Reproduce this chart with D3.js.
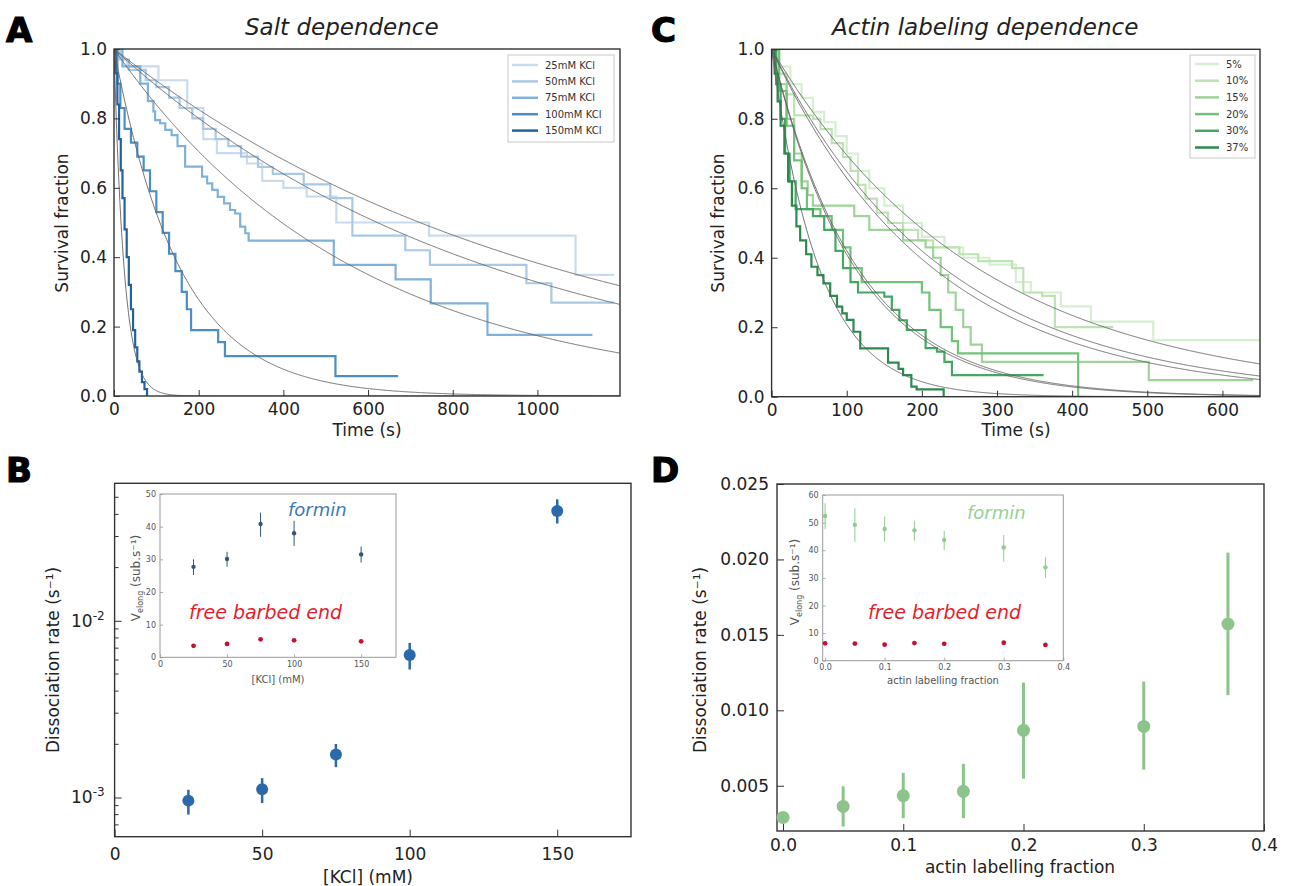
<!DOCTYPE html>
<html>
<head>
<meta charset="utf-8">
<script src="https://cdn.jsdelivr.net/npm/d3@7"></script>
<style>
  body { margin: 0; background: #fff; }
  svg { font-family: "DejaVu Sans", sans-serif; }
</style>
</head>
<body>
<svg id="fig" width="1306" height="886"></svg>
<script>
// ---------- Panel A : survival curves, salt series ----------
const saltLabels = ["25mM KCl", "50mM KCl", "75mM KCl", "100mM KCl", "150mM KCl"];
const saltColors = ["#c9dcee", "#a9c9e4", "#80b1d8", "#4b8dc6", "#22639f"];
// [time (s), survival fraction] change points
const salt25 = [[0,1],[12,0.97],[30,0.95],[105,0.91],[173,0.83],[211,0.74],[243,0.70],[314,0.67],[350,0.62],[400,0.60],[455,0.575],[525,0.50],[744,0.462],[1090,0.349],[1181,0.349]];
const salt50 = [[0,1],[15,0.97],[35,0.94],[75,0.91],[100,0.89],[130,0.86],[155,0.83],[185,0.80],[210,0.77],[240,0.74],[270,0.72],[300,0.69],[340,0.66],[375,0.64],[448,0.61],[511,0.57],[563,0.462],[688,0.42],[746,0.378],[974,0.325],[1033,0.269],[1181,0.269]];
const salt75 = [[0,1],[20,0.95],[62,0.90],[80,0.85],[93,0.82],[97,0.795],[109,0.786],[121,0.767],[136,0.752],[150,0.72],[168,0.661],[208,0.632],[220,0.613],[232,0.594],[245,0.574],[260,0.555],[274,0.536],[286,0.526],[298,0.488],[310,0.469],[318,0.448],[519,0.378],[665,0.336],[748,0.267],[882,0.176],[1130,0.176]];
const salt100 = [[0,1],[8,0.90],[15,0.83],[25,0.77],[40,0.73],[55,0.69],[70,0.65],[85,0.59],[100,0.53],[115,0.47],[130,0.41],[145,0.36],[160,0.30],[172,0.25],[182,0.19],[246,0.155],[262,0.115],[523,0.057],[671,0.057]];
const salt150 = [[0,1],[4,0.93],[8,0.84],[12,0.74],[16,0.65],[20,0.57],[25,0.48],[30,0.40],[35,0.32],[40,0.25],[45,0.19],[50,0.14],[55,0.10],[60,0.07],[66,0.04],[72,0.02],[78,0]];
const saltSteps = [salt25, salt50, salt75, salt100, salt150];

// ---------- Panel B : dissociation rate vs [KCl] ----------
const kcl = [25, 50, 75, 100, 150];
const saltRate = [9.6e-4, 1.115e-3, 1.75e-3, 6.4e-3, 0.0418];
const saltRateLo = [8.0e-4, 9.3e-4, 1.485e-3, 5.3e-3, 0.0355];
const saltRateHi = [1.105e-3, 1.287e-3, 2.01e-3, 7.5e-3, 0.0487];
const saltVformin = [27.7, 30.1, 40.8, 38.0, 31.5];
const saltVforminLo = [25.2, 27.7, 36.9, 34.1, 29.0];
const saltVforminHi = [30.0, 32.3, 44.3, 41.8, 33.9];
const saltVfree = [3.5, 4.1, 5.5, 5.2, 4.9];

// ---------- Panel C : survival curves, labeling series ----------
const labLabels = ["5%", "10%", "15%", "20%", "30%", "37%"];
const labFrac = [0.05, 0.1, 0.15, 0.2, 0.3, 0.37];
const labColors = ["#d6efd0", "#bde3b4", "#9fd39a", "#73c27a", "#45a862", "#2b8a4d"];
const lab5 = [[0,1],[10,0.95],[25,0.90],[40,0.86],[55,0.82],[70,0.79],[85,0.75],[100,0.70],[115,0.65],[130,0.60],[150,0.55],[175,0.50],[200,0.46],[230,0.43],[255,0.40],[290,0.38],[325,0.33],[345,0.30],[385,0.26],[425,0.216],[508,0.163],[650,0.163]];
const lab10 = [[0,1],[8,0.93],[20,0.87],[30,0.81],[55,0.80],[65,0.77],[80,0.73],[95,0.69],[105,0.65],[115,0.61],[125,0.57],[140,0.53],[155,0.50],[175,0.48],[195,0.45],[215,0.43],[250,0.41],[275,0.39],[320,0.37],[335,0.30],[360,0.29],[377,0.20],[455,0.20]];
const lab15 = [[0,1],[10,0.90],[20,0.80],[30,0.70],[40,0.62],[48,0.58],[55,0.55],[110,0.52],[130,0.48],[175,0.45],[205,0.43],[215,0.40],[225,0.35],[235,0.30],[245,0.25],[255,0.20],[265,0.15],[280,0.10],[502,0.048],[641,0.048]];
const lab20 = [[0,1],[10,0.88],[20,0.78],[30,0.68],[40,0.60],[47,0.54],[65,0.52],[80,0.48],[95,0.43],[105,0.37],[120,0.33],[200,0.30],[210,0.25],[225,0.20],[240,0.16],[248,0.125],[408,0]];
const lab30 = [[0,1],[6,0.90],[12,0.80],[18,0.70],[24,0.62],[32,0.54],[55,0.52],[70,0.48],[85,0.42],[95,0.37],[105,0.33],[115,0.30],[150,0.288],[160,0.25],[170,0.22],[180,0.192],[205,0.14],[220,0.13],[230,0.10],[240,0.062],[362,0.062]];
const lab37 = [[0,1],[4,0.93],[8,0.85],[12,0.78],[17,0.70],[22,0.62],[27,0.55],[33,0.49],[38,0.45],[46,0.41],[53,0.374],[61,0.35],[69,0.326],[78,0.29],[87,0.259],[94,0.24],[100,0.221],[109,0.187],[118,0.139],[155,0.098],[169,0.08],[175,0.062],[186,0.029],[193,0.021],[220,0.021],[229,0]];
const labSteps = [lab5, lab10, lab15, lab20, lab30, lab37];

// ---------- Panel D : dissociation rate vs labelling fraction ----------
const frac = [0, 0.05, 0.1, 0.15, 0.2, 0.3, 0.37];
const fracRate = [0.0029, 0.00363, 0.00434, 0.00463, 0.00867, 0.00893, 0.01572];
const fracRateLo = [0.0028, 0.0023, 0.00285, 0.00285, 0.00547, 0.00607, 0.0110];
const fracRateHi = [0.0031, 0.00496, 0.00585, 0.00645, 0.01184, 0.0119, 0.02045];
const fracVformin = [52.4, 49.2, 47.7, 47.2, 43.7, 41.0, 33.8];
const fracVforminLo = [47.6, 43.1, 43.1, 43.5, 40.1, 35.9, 29.9];
const fracVforminHi = [57.0, 55.2, 52.2, 50.7, 47.1, 45.5, 37.5];
const fracVfree = [6.3, 6.2, 5.8, 6.4, 6.1, 6.5, 5.7];

const svg = d3.select("#fig");
const INK = "#222";

// axes helper: frame + inward ticks on left/bottom
function drawAxes(g, x, y, cfg) {
  const [x0, x1] = x.range(), [y0, y1] = y.range();
  const gx = g.append("g").attr("transform", `translate(0,${y0})`)
    .call(d3.axisBottom(x).tickValues(cfg.xticks).tickSize(-cfg.tick).tickPadding(cfg.xpad || cfg.pad).tickFormat(cfg.xfmt));
  const gy = g.append("g").attr("transform", `translate(${x0},0)`)
    .call(d3.axisLeft(y).tickValues(cfg.yticks).tickSize(-cfg.tick).tickPadding(cfg.pad).tickFormat(cfg.yfmt || null));
  [gx, gy].forEach(a => {
    a.select(".domain").remove();
    a.attr("font-family", null).attr("font-size", cfg.font);
    a.selectAll("line").attr("stroke", cfg.stroke).attr("stroke-width", cfg.sw);
    a.selectAll("text").attr("fill", cfg.textColor || INK);
  });
  g.append("rect").attr("x", x0).attr("y", y1).attr("width", x1 - x0).attr("height", y0 - y1)
    .attr("fill", "none").attr("stroke", cfg.stroke).attr("stroke-width", cfg.frameW || 1.4);
  return { gx, gy };
}

function clip(id, x, y) {
  svg.append("clipPath").attr("id", id).append("rect")
    .attr("x", x.range()[0]).attr("y", y.range()[1])
    .attr("width", x.range()[1] - x.range()[0]).attr("height", y.range()[0] - y.range()[1]);
}

function letter(t, x, y) {
  svg.append("text").attr("x", x).attr("y", y).text(t)
    .attr("font-size", 34).attr("font-weight", "bold").attr("fill", "#000")
    .attr("stroke", "#000").attr("stroke-width", 1.2);
}

const stepLine = (x, y) => d3.line().x(d => x(d[0])).y(d => y(d[1])).curve(d3.curveStepAfter);
const fitLine = (x, y) => d3.line().x(d => x(d[0])).y(d => y(d[1]));

// ================= Panel A =================
{
  const x = d3.scaleLinear().domain([0, 1195]).range([114, 620]);
  const y = d3.scaleLinear().domain([0, 1]).range([396, 49]);
  clip("clipA", x, y);
  const g = svg.append("g");
  const plot = g.append("g").attr("clip-path", "url(#clipA)");
  saltSteps.forEach((s, i) => {
    plot.append("path").attr("d", stepLine(x, y)(s)).attr("fill", "none")
      .attr("stroke", saltColors[i]).attr("stroke-width", 2.2);
  });
  saltRate.forEach(k => {
    const pts = d3.range(0, 1196, 2).map(t => [t, Math.exp(-k * t)]);
    plot.append("path").attr("d", fitLine(x, y)(pts)).attr("fill", "none")
      .attr("stroke", "#626262").attr("stroke-width", 0.9);
  });
  drawAxes(g, x, y, { xticks: [0, 200, 400, 600, 800, 1000], yticks: [0, 0.2, 0.4, 0.6, 0.8, 1.0],
    xfmt: d3.format("d"), yfmt: d3.format(".1f"), tick: 6, pad: 7, font: 17, stroke: "#333", sw: 1 });
  // legend
  const lg = g.append("g");
  lg.append("rect").attr("x", 508).attr("y", 55).attr("width", 106).attr("height", 87)
    .attr("fill", "#fff").attr("stroke", "#c8c8c8");
  saltLabels.forEach((l, i) => {
    const yy = 65 + i * 16.4;
    lg.append("line").attr("x1", 512).attr("x2", 538).attr("y1", yy).attr("y2", yy)
      .attr("stroke", saltColors[i]).attr("stroke-width", 2.5);
    lg.append("text").attr("x", 545).attr("y", yy + 3.5).text(l).attr("font-size", 10).attr("fill", "#333");
  });
  g.append("text").attr("x", 367).attr("y", 436).attr("text-anchor", "middle").attr("font-size", 17).attr("fill", INK).text("Time (s)");
  g.append("text").attr("transform", "translate(68,223) rotate(-90)").attr("text-anchor", "middle").attr("font-size", 17).attr("fill", INK).text("Survival fraction");
  g.append("text").attr("x", 245).attr("y", 35).attr("font-size", 23).attr("font-style", "italic").attr("fill", INK).text("Salt dependence");
  letter("A", 6, 42);
}

// ================= Panel C =================
{
  const x = d3.scaleLinear().domain([0, 650]).range([771.6, 1260]);
  const y = d3.scaleLinear().domain([0, 1]).range([396.7, 49.3]);
  clip("clipC", x, y);
  const g = svg.append("g");
  const plot = g.append("g").attr("clip-path", "url(#clipC)");
  labSteps.forEach((s, i) => {
    plot.append("path").attr("d", stepLine(x, y)(s)).attr("fill", "none")
      .attr("stroke", labColors[i]).attr("stroke-width", 2.2);
  });
  labFrac.forEach(f => {
    const k = fracRate[frac.indexOf(f)];
    const pts = d3.range(0, 651, 1).map(t => [t, Math.exp(-k * t)]);
    plot.append("path").attr("d", fitLine(x, y)(pts)).attr("fill", "none")
      .attr("stroke", "#626262").attr("stroke-width", 0.9);
  });
  drawAxes(g, x, y, { xticks: [0, 100, 200, 300, 400, 500, 600], yticks: [0, 0.2, 0.4, 0.6, 0.8, 1.0],
    xfmt: d3.format("d"), yfmt: d3.format(".1f"), tick: 6, pad: 7, font: 17, stroke: "#333", sw: 1 });
  const lg = g.append("g");
  lg.append("rect").attr("x", 1190).attr("y", 55).attr("width", 65).attr("height", 103)
    .attr("fill", "#fff").attr("stroke", "#c8c8c8");
  labLabels.forEach((l, i) => {
    const yy = 64 + i * 16.7;
    lg.append("line").attr("x1", 1195).attr("x2", 1219).attr("y1", yy).attr("y2", yy)
      .attr("stroke", labColors[i]).attr("stroke-width", 2.5);
    lg.append("text").attr("x", 1226).attr("y", yy + 3.5).text(l).attr("font-size", 10).attr("fill", "#333");
  });
  g.append("text").attr("x", 1016).attr("y", 436).attr("text-anchor", "middle").attr("font-size", 17).attr("fill", INK).text("Time (s)");
  g.append("text").attr("transform", "translate(724,223) rotate(-90)").attr("text-anchor", "middle").attr("font-size", 17).attr("fill", INK).text("Survival fraction");
  g.append("text").attr("x", 832).attr("y", 35).attr("font-size", 23).attr("font-style", "italic").attr("fill", INK).text("Actin labeling dependence");
  letter("C", 651, 42);
}

// ================= Panel B =================
{
  const x = d3.scaleLinear().domain([0, 175]).range([114.6, 631]);
  const y = d3.scaleLog().domain([6e-4, 6e-2]).range([836.7, 483.3]);
  const g = svg.append("g");
  const minor = [7e-4, 8e-4, 9e-4, 2e-3, 3e-3, 4e-3, 5e-3, 6e-3, 7e-3, 8e-3, 9e-3, 2e-2, 3e-2, 4e-2, 5e-2];
  const { gy } = drawAxes(g, x, y, { xticks: [0, 50, 100, 150], yticks: [1e-3, 1e-2],
    xfmt: d3.format("d"), yfmt: () => "", tick: 7, pad: 8, xpad: 11, font: 17, stroke: "#333", sw: 1 });
  gy.selectAll(".tick text").each(function (d) {
    const t = d3.select(this);
    t.text("10").attr("x", -10);
    t.append("tspan").attr("dy", -7).attr("font-size", 12).text(d === 1e-2 ? "-2" : "-3");
  });
  g.append("g").selectAll("line").data(minor).join("line")
    .attr("x1", 114.6).attr("x2", 118.6).attr("y1", d => y(d)).attr("y2", d => y(d))
    .attr("stroke", "#333");
  // error bars + points
  const pts = g.append("g");
  kcl.forEach((c, i) => {
    pts.append("line").attr("x1", x(c)).attr("x2", x(c)).attr("y1", y(saltRateLo[i])).attr("y2", y(saltRateHi[i]))
      .attr("stroke", "#2a6aab").attr("stroke-width", 2.5);
    pts.append("circle").attr("cx", x(c)).attr("cy", y(saltRate[i])).attr("r", 6).attr("fill", "#2a6aab");
  });
  g.append("text").attr("x", 368).attr("y", 883).attr("text-anchor", "middle").attr("font-size", 17).attr("fill", INK).text("[KCl] (mM)");
  g.append("text").attr("transform", "translate(59,660) rotate(-90)").attr("text-anchor", "middle").attr("font-size", 17).attr("fill", INK)
    .text("Dissociation rate (s\u207B\u00B9)");
  letter("B", 6, 482);

  // inset
  const xi = d3.scaleLinear().domain([0, 176]).range([160, 396]);
  const yi = d3.scaleLinear().domain([0, 50]).range([657.3, 494]);
  const gi = svg.append("g");
  gi.append("rect").attr("x", 160).attr("y", 494).attr("width", 236).attr("height", 163.3).attr("fill", "#fff");
  drawAxes(gi, xi, yi, { xticks: [0, 50, 100, 150], yticks: [0, 10, 20, 30, 40, 50],
    xfmt: d3.format("d"), yfmt: d3.format("d"), tick: 3, pad: 4, font: 8, stroke: "#999", sw: 0.8, frameW: 1, textColor: "#555" });
  kcl.forEach((c, i) => {
    gi.append("line").attr("x1", xi(c)).attr("x2", xi(c)).attr("y1", yi(saltVforminLo[i])).attr("y2", yi(saltVforminHi[i]))
      .attr("stroke", "#34557c").attr("stroke-width", 1);
    gi.append("circle").attr("cx", xi(c)).attr("cy", yi(saltVformin[i])).attr("r", 2.2).attr("fill", "#34557c");
    gi.append("circle").attr("cx", xi(c)).attr("cy", yi(saltVfree[i])).attr("r", 2.4).attr("fill", "#c8102e");
  });
  gi.append("text").attr("x", 288).attr("y", 516).attr("font-size", 18).attr("font-style", "italic").attr("fill", "#3b78b5").text("formin");
  gi.append("text").attr("x", 189).attr("y", 619).attr("font-size", 19).attr("font-style", "italic").attr("fill", "#e51e2b").text("free barbed end");
  gi.append("text").attr("x", 278).attr("y", 683).attr("text-anchor", "middle").attr("font-size", 10).attr("fill", "#555").text("[KCl] (mM)");
  const vl = gi.append("text").attr("transform", "translate(140,578) rotate(-90)").attr("text-anchor", "middle").attr("font-size", 12).attr("fill", "#555");
  vl.append("tspan").text("V");
  vl.append("tspan").attr("font-size", 8).attr("dy", 3).text("elong");
  vl.append("tspan").attr("dy", -3).text(" (sub.s\u207B\u00B9)");
}

// ================= Panel D =================
{
  const x = d3.scaleLinear().domain([-0.005, 0.4]).range([777, 1264]);
  const y = d3.scaleLinear().domain([0.002, 0.025]).range([831, 484]);
  const g = svg.append("g");
  drawAxes(g, x, y, { xticks: [0, 0.1, 0.2, 0.3, 0.4], yticks: [0.005, 0.01, 0.015, 0.02, 0.025],
    xfmt: d3.format(".1f"), yfmt: d3.format(".3f"), tick: 7, pad: 8, font: 17, stroke: "#333", sw: 1 });
  frac.forEach((f, i) => {
    g.append("line").attr("x1", x(f)).attr("x2", x(f)).attr("y1", y(fracRateLo[i])).attr("y2", y(fracRateHi[i]))
      .attr("stroke", "#8cc48c").attr("stroke-width", 3);
    g.append("circle").attr("cx", x(f)).attr("cy", y(fracRate[i])).attr("r", 6.5).attr("fill", "#8cc48c");
  });
  g.append("text").attr("x", 1020).attr("y", 873).attr("text-anchor", "middle").attr("font-size", 17).attr("fill", INK).text("actin labelling fraction");
  g.append("text").attr("transform", "translate(706,660) rotate(-90)").attr("text-anchor", "middle").attr("font-size", 17).attr("fill", INK)
    .text("Dissociation rate (s\u207B\u00B9)");
  letter("D", 651, 482);

  // inset
  const xi = d3.scaleLinear().domain([-0.004, 0.4]).range([822.7, 1063.3]);
  const yi = d3.scaleLinear().domain([0, 60]).range([660.7, 495]);
  const gi = svg.append("g");
  gi.append("rect").attr("x", 822.7).attr("y", 495).attr("width", 240.6).attr("height", 165.7).attr("fill", "#fff");
  drawAxes(gi, xi, yi, { xticks: [0, 0.1, 0.2, 0.3, 0.4], yticks: [0, 10, 20, 30, 40, 50, 60],
    xfmt: d3.format(".1f"), yfmt: d3.format("d"), tick: 3, pad: 4, font: 8, stroke: "#999", sw: 0.8, frameW: 1, textColor: "#555" });
  frac.forEach((f, i) => {
    gi.append("line").attr("x1", xi(f)).attr("x2", xi(f)).attr("y1", yi(fracVforminLo[i])).attr("y2", yi(fracVforminHi[i]))
      .attr("stroke", "#8fcc8f").attr("stroke-width", 1);
    gi.append("circle").attr("cx", xi(f)).attr("cy", yi(fracVformin[i])).attr("r", 2.2).attr("fill", "#8fcc8f");
    gi.append("circle").attr("cx", xi(f)).attr("cy", yi(fracVfree[i])).attr("r", 2.4).attr("fill", "#c8102e");
  });
  gi.append("text").attr("x", 967).attr("y", 519).attr("font-size", 18).attr("font-style", "italic").attr("fill", "#93d193").text("formin");
  gi.append("text").attr("x", 868).attr("y", 619).attr("font-size", 19).attr("font-style", "italic").attr("fill", "#e51e2b").text("free barbed end");
  gi.append("text").attr("x", 943).attr("y", 684).attr("text-anchor", "middle").attr("font-size", 10).attr("fill", "#555").text("actin labelling fraction");
  const vl = gi.append("text").attr("transform", "translate(799,582) rotate(-90)").attr("text-anchor", "middle").attr("font-size", 12).attr("fill", "#555");
  vl.append("tspan").text("V");
  vl.append("tspan").attr("font-size", 8).attr("dy", 3).text("elong");
  vl.append("tspan").attr("dy", -3).text(" (sub.s\u207B\u00B9)");
}
</script>
</body>
</html>
